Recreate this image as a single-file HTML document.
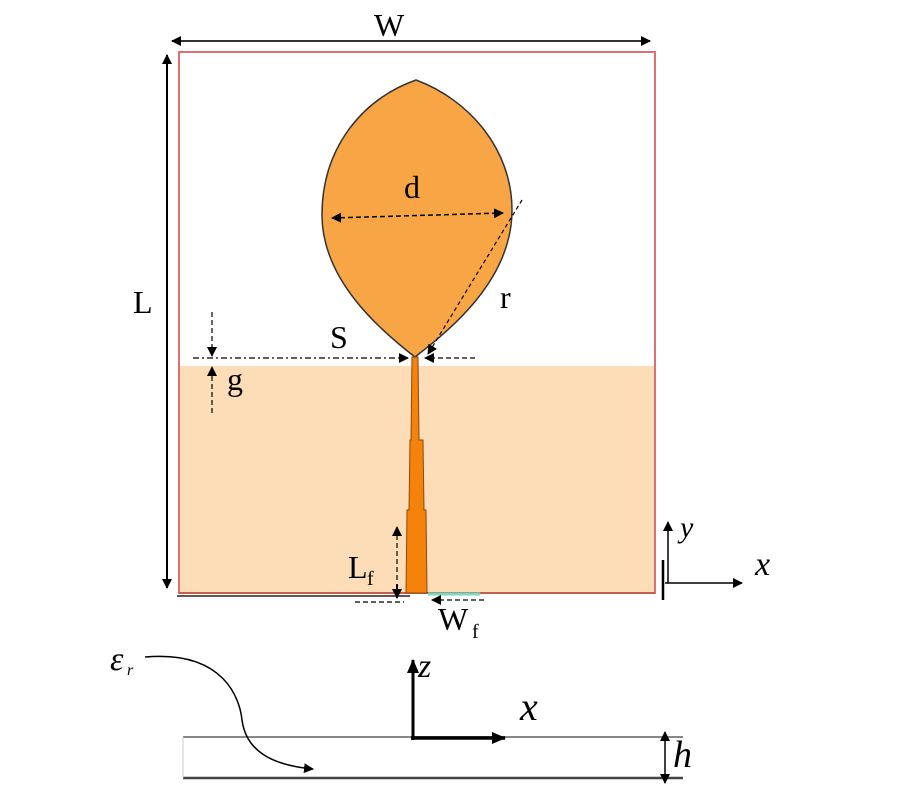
<!DOCTYPE html>
<html><head><meta charset="utf-8"><style>
html,body{margin:0;padding:0;background:#fff;}
svg{display:block;}
text{font-family:"Liberation Serif",serif;fill:#000;}
</style></head><body>
<svg width="900" height="800" viewBox="0 0 900 800" xmlns="http://www.w3.org/2000/svg">
<defs>
<marker id="a" markerWidth="10" markerHeight="10" refX="9" refY="5" orient="auto-start-reverse" markerUnits="userSpaceOnUse"><path d="M0,0 L10,5 L0,10 z" fill="#000"/></marker>
<marker id="s" markerWidth="14" markerHeight="12" refX="13" refY="6" orient="auto-start-reverse" markerUnits="userSpaceOnUse"><path d="M0,0 L14,6 L0,12 z" fill="#000"/></marker>
</defs>
<!-- substrate -->
<rect x="179" y="52" width="476" height="541" fill="#fff" stroke="#e07070" stroke-width="2"/>
<rect x="180" y="366" width="474" height="226" fill="#fddcb8"/>
<line x1="179" y1="593" x2="655" y2="593" stroke="#c06050" stroke-width="2"/>
<line x1="177" y1="596" x2="410" y2="596" stroke="#3a1a1a" stroke-width="1.5"/>
<!-- leaf -->
<path d="M416,80 C360,100 322,150 322,215 C322,280 380,330 415,357 C450,330 512,280 512,210 C512,150 470,100 416,80 Z" fill="#f8a545" stroke="#333" stroke-width="1.5"/>
<!-- feed -->
<polygon points="412,357 418,357 419,440 423,440 424,510 426,510 427,593 406,593 407,510 409,510 410,440 411,440" fill="#f5820a" stroke="#8a4a10" stroke-width="1"/>
<line x1="428" y1="594" x2="480" y2="594" stroke="#7ad8c0" stroke-width="3"/>
<!-- W -->
<line x1="172" y1="41" x2="650" y2="41" stroke="#333" stroke-width="2" marker-start="url(#a)" marker-end="url(#a)"/>
<text x="374" y="36" font-size="32">W</text>
<!-- L -->
<line x1="167" y1="55" x2="167" y2="588" stroke="#000" stroke-width="2" marker-start="url(#a)" marker-end="url(#a)"/>
<text x="133" y="313" font-size="32">L</text>
<!-- d -->
<line x1="332" y1="218" x2="503" y2="213" stroke="#000" stroke-width="1.5" stroke-dasharray="5,3" marker-start="url(#a)" marker-end="url(#a)"/>
<text x="404" y="198" font-size="32">d</text>
<!-- r -->
<line x1="522" y1="200" x2="428" y2="354" stroke="#000" stroke-width="1.2" stroke-dasharray="4,3" marker-end="url(#a)"/>
<text x="500" y="308" font-size="32">r</text>
<!-- S -->
<line x1="193" y1="358" x2="408" y2="358" stroke="#000" stroke-width="1.2" stroke-dasharray="6,3,2,3" marker-end="url(#a)"/>
<line x1="475" y1="358" x2="425" y2="358" stroke="#000" stroke-width="1.2" stroke-dasharray="5,3" marker-end="url(#a)"/>
<text x="330" y="348" font-size="32">S</text>
<!-- g -->
<line x1="212" y1="312" x2="212" y2="356" stroke="#000" stroke-width="1.2" stroke-dasharray="5,3" marker-end="url(#a)"/>
<line x1="212" y1="413" x2="212" y2="367" stroke="#000" stroke-width="1.2" stroke-dasharray="5,3" marker-end="url(#a)"/>
<text x="227" y="390" font-size="32">g</text>
<!-- Lf -->
<line x1="397" y1="580" x2="397" y2="527" stroke="#000" stroke-width="1.2" stroke-dasharray="5,3" marker-end="url(#a)"/>
<line x1="397" y1="584" x2="397" y2="598" stroke="#000" stroke-width="2" marker-end="url(#a)"/>
<line x1="355" y1="602" x2="404" y2="602" stroke="#000" stroke-width="1.2" stroke-dasharray="5,3"/>
<text x="348" y="578" font-size="32">L</text><text x="367" y="585" font-size="20">f</text>
<!-- Wf -->
<line x1="484" y1="600" x2="432" y2="600" stroke="#000" stroke-width="1.2" stroke-dasharray="5,3" marker-end="url(#a)"/>
<text x="438" y="630" font-size="32">W</text><text x="472" y="638" font-size="20">f</text>
<!-- xy axes -->
<line x1="663" y1="560" x2="663" y2="600" stroke="#000" stroke-width="2.5"/>
<line x1="668" y1="583" x2="668" y2="522" stroke="#000" stroke-width="1.5" marker-end="url(#a)"/>
<line x1="665" y1="583" x2="742" y2="583" stroke="#000" stroke-width="1.5" marker-end="url(#a)"/>
<text x="680" y="537" font-size="30" font-style="italic">y</text>
<text x="755" y="575" font-size="34" font-style="italic">x</text>
<!-- side view -->
<line x1="183" y1="737" x2="683" y2="737" stroke="#888" stroke-width="2"/>
<line x1="183" y1="778" x2="683" y2="778" stroke="#444" stroke-width="2.5"/>
<line x1="183" y1="737" x2="183" y2="778" stroke="#ccc" stroke-width="1"/>
<line x1="413" y1="740" x2="413" y2="660" stroke="#000" stroke-width="3" marker-end="url(#s)"/>
<line x1="411" y1="738" x2="505" y2="738" stroke="#000" stroke-width="3.5" marker-end="url(#s)"/>
<text x="418" y="677" font-size="34" font-style="italic">z</text>
<text x="520" y="720" font-size="40" font-style="italic">x</text>
<line x1="665" y1="732" x2="665" y2="783" stroke="#000" stroke-width="1.5" marker-start="url(#a)" marker-end="url(#a)"/>
<text x="673" y="767" font-size="38" font-style="italic">h</text>
<text x="110" y="670" font-size="34" font-style="italic">ε</text><text x="127" y="675" font-size="16" font-style="italic">r</text>
<path d="M145,657 C225,650 240,700 242,720 C246,750 270,765 313,769" fill="none" stroke="#000" stroke-width="1.5" marker-end="url(#a)"/>
</svg>
</body></html>
